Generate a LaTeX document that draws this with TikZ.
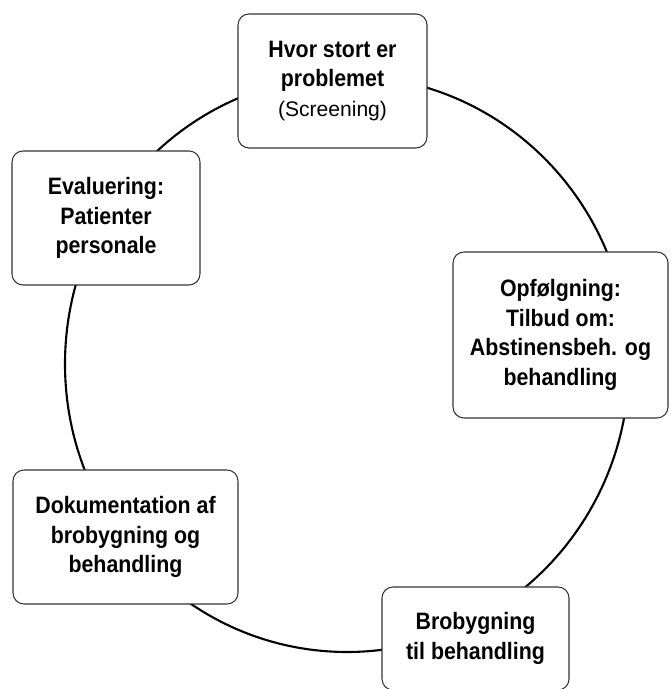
\documentclass[tikz,border=0pt]{standalone}
\usepackage{fontspec}
\setmainfont{Liberation Sans}[BoldFeatures={FakeStretch=0.9}]
\usepackage{tikz}

\begin{document}
\begin{tikzpicture}[
  stage/.style={rectangle,rounded corners=2.2mm,draw=black!80,line width=0.6pt,fill=white,
    align=center,font=\fontsize{13.5}{16.8}\selectfont\bfseries},
  loop/.style={line width=1.2pt,black}]
\useasboundingbox (0,0) rectangle (13.4,13.78);
\coordinate (mid) at (6.94,6.50);
\draw[loop] (mid) ellipse [x radius=5.64cm, y radius=5.76cm];

\node[stage,minimum width=3.78cm,minimum height=2.68cm] (screen) at (6.65,12.16) {Hvor stort er\\problemet\\{\mdseries\fontsize{12}{16.8}\selectfont (Screening)}};
\node[stage,minimum width=4.30cm,minimum height=3.32cm] (follow) at (11.21,7.08) {Opfølgning:\\Tilbud om:\\Abstinensbeh. og\\behandling};
\node[stage,minimum width=3.74cm,minimum height=2.06cm] (bridge) at (9.51,1.01) {Brobygning\\til behandling};
\node[stage,minimum width=4.50cm,minimum height=2.68cm] (docu) at (2.51,3.04) {Dokumentation af\\brobygning og\\behandling};
\node[stage,minimum width=3.76cm,minimum height=2.68cm] (evalu) at (2.12,9.42) {Evaluering:\\Patienter\\personale};
\end{tikzpicture}
\end{document}
